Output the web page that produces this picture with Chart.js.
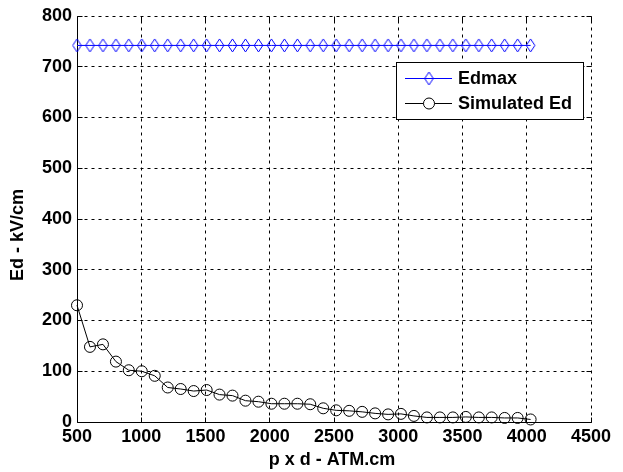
<!DOCTYPE html>
<html>
<head>
<meta charset="utf-8">
<script src="https://cdn.jsdelivr.net/npm/chart.js@4.4.1/dist/chart.umd.min.js"></script>
<style>
  html, body { margin: 0; padding: 0; background: #fff; }
  canvas { display: block; }
</style>
</head>
<body>
<canvas id="grafico" width="623" height="472"></canvas>
<script>
// ======= Dados =======
const pd = [500, 601, 702, 803, 903, 1004, 1105, 1206, 1307, 1408, 1509, 1609,
            1710, 1811, 1912, 2013, 2114, 2215, 2315, 2416, 2517, 2618, 2719, 2820,
            2921, 3021, 3122, 3223, 3324, 3425, 3526, 3627, 3727, 3828, 3929, 4030];
const edmax = [742, 742, 742, 742, 742, 742, 742, 742, 742, 742, 742, 742,
               742, 742, 742, 742, 742, 742, 742, 742, 742, 742, 742, 742,
               742, 742, 742, 742, 742, 742, 742, 742, 742, 742, 742, 742];
const edSimulado = [230, 148, 153, 119, 102, 100, 91, 68, 65, 61, 63, 54,
                    52, 42, 40, 36, 36, 36, 35, 27, 23, 22, 20, 17,
                    15, 16, 12, 9, 9, 9, 10, 9, 9, 8, 8, 5];
const xTicks = [500, 1000, 1500, 2000, 2500, 3000, 3500, 4000, 4500];
const yTicks = [0, 100, 200, 300, 400, 500, 600, 700, 800];
const nomes = ["Edmax", "Simulated Ed"];
const tituloX = "p x d - ATM.cm";
const tituloY = "Ed - kV/cm";

const FONTE = "bold 18px 'Liberation Sans', Arial, sans-serif";
const AZUL = "#0000ff";

// losango vazado (mais alto que largo)
function fazerLosango() {
  const c = document.createElement("canvas");
  c.width = 11; c.height = 15;
  const g = c.getContext("2d");
  g.strokeStyle = AZUL; g.lineWidth = 1;
  g.beginPath();
  g.moveTo(5.5, 1); g.lineTo(9.8, 7.5); g.lineTo(5.5, 14); g.lineTo(1.2, 7.5);
  g.closePath();
  g.stroke();
  return c;
}
const losango = fazerLosango();

const nitido = v => Math.floor(v) + 0.5;

// ======= Grade, eixos, títulos e legenda =======
const moldura = {
  id: "moldura",
  beforeDatasetsDraw(chart) {
    const { ctx, chartArea: a, scales: { x, y } } = chart;
    const L = nitido(a.left), R = nitido(a.right), T = nitido(a.top), B = nitido(a.bottom);
    ctx.save();
    ctx.strokeStyle = "#000";
    ctx.lineWidth = 1;
    ctx.setLineDash([3, 4]);
    x.ticks.forEach(t => {
      const px = nitido(x.getPixelForValue(t.value));
      if (px <= L) return;
      ctx.beginPath(); ctx.moveTo(px, B); ctx.lineTo(px, T); ctx.stroke();
    });
    y.ticks.forEach(t => {
      const py = nitido(y.getPixelForValue(t.value));
      if (py >= B) return;
      ctx.beginPath(); ctx.moveTo(L, py); ctx.lineTo(R, py); ctx.stroke();
    });
    ctx.setLineDash([]);
    // eixos sólidos à esquerda e embaixo
    ctx.beginPath();
    ctx.moveTo(L, T); ctx.lineTo(L, B); ctx.lineTo(R, B);
    ctx.stroke();
    // marcas para dentro
    const m = 5;
    ctx.beginPath();
    x.ticks.forEach(t => {
      const px = nitido(x.getPixelForValue(t.value));
      ctx.moveTo(px, B); ctx.lineTo(px, B - m);
      ctx.moveTo(px, T); ctx.lineTo(px, T + m);
    });
    y.ticks.forEach(t => {
      const py = nitido(y.getPixelForValue(t.value));
      ctx.moveTo(L, py); ctx.lineTo(L + m, py);
      ctx.moveTo(R, py); ctx.lineTo(R - m, py);
    });
    ctx.stroke();
    ctx.restore();
  },
  afterDraw(chart) {
    const { ctx } = chart;
    ctx.save();
    ctx.fillStyle = "#000";
    ctx.font = FONTE;
    ctx.textAlign = "center";
    ctx.textBaseline = "middle";
    ctx.fillText(tituloX, 332, 460);
    ctx.translate(18, 235);
    ctx.rotate(-Math.PI / 2);
    ctx.fillText(tituloY, 0, 0);
    ctx.restore();

    // legenda
    ctx.save();
    ctx.fillStyle = "#fff";
    ctx.fillRect(397, 62, 187, 57);
    ctx.strokeStyle = "#000";
    ctx.lineWidth = 1;
    ctx.strokeRect(396.5, 62.5, 187, 57);
    const linhas = [78.5, 103.5];
    chart.data.datasets.forEach((ds, i) => {
      const yy = linhas[i];
      ctx.strokeStyle = ds.borderColor;
      ctx.beginPath(); ctx.moveTo(405, yy); ctx.lineTo(452, yy); ctx.stroke();
      if (ds.pointStyle === losango) {
        ctx.drawImage(losango, 429 - losango.width / 2, Math.round(yy - losango.height / 2));
      } else {
        ctx.fillStyle = "#fff";
        ctx.beginPath(); ctx.arc(429, yy, ds.pointRadius, 0, Math.PI * 2);
        ctx.fill(); ctx.stroke();
      }
      ctx.fillStyle = "#000";
      ctx.font = FONTE;
      ctx.textAlign = "left";
      ctx.textBaseline = "middle";
      ctx.fillText(ds.label, 458, yy + 1);
    });
    ctx.restore();
  }
};

// ======= Gráfico =======
Chart.defaults.font.family = "'Liberation Sans', Arial, sans-serif";
Chart.defaults.color = "#000";

new Chart(document.getElementById("grafico"), {
  type: "line",
  data: {
    datasets: [
      {
        label: nomes[0],
        data: pd.map((v, i) => ({ x: v, y: edmax[i] })),
        borderColor: AZUL,
        borderWidth: 1,
        pointStyle: losango,
        pointRadius: 5,
        clip: false
      },
      {
        label: nomes[1],
        data: pd.map((v, i) => ({ x: v, y: edSimulado[i] })),
        borderColor: "#000",
        borderWidth: 1,
        pointStyle: "circle",
        pointRadius: 5.5,
        pointBorderWidth: 1,
        pointBackgroundColor: "rgba(0,0,0,0)",
        pointBorderColor: "#000",
        clip: false
      }
    ]
  },
  options: {
    responsive: false,
    animation: false,
    layout: { padding: { top: 16, right: 32, left: 0, bottom: 0 } },
    plugins: { legend: { display: false }, tooltip: { enabled: false } },
    elements: { line: { tension: 0 } },
    scales: {
      x: {
        type: "linear",
        min: 500, max: 4500,
        afterBuildTicks: s => { s.ticks = xTicks.map(v => ({ value: v })); },
        afterFit: s => { s.height = 50; },
        grid: { display: false, drawTicks: false },
        border: { display: false },
        ticks: {
          font: { size: 18, weight: "bold" }, padding: 4, maxRotation: 0, autoSkip: false,
          callback: v => String(v)
        }
      },
      y: {
        min: 0, max: 800,
        afterBuildTicks: s => { s.ticks = yTicks.map(v => ({ value: v })); },
        afterFit: s => { s.width = 77; },
        grid: { display: false, drawTicks: false },
        border: { display: false },
        ticks: {
          font: { size: 18, weight: "bold" }, padding: 5, autoSkip: false,
          callback: v => String(v)
        }
      }
    }
  },
  plugins: [moldura]
});
</script>
</body>
</html>
